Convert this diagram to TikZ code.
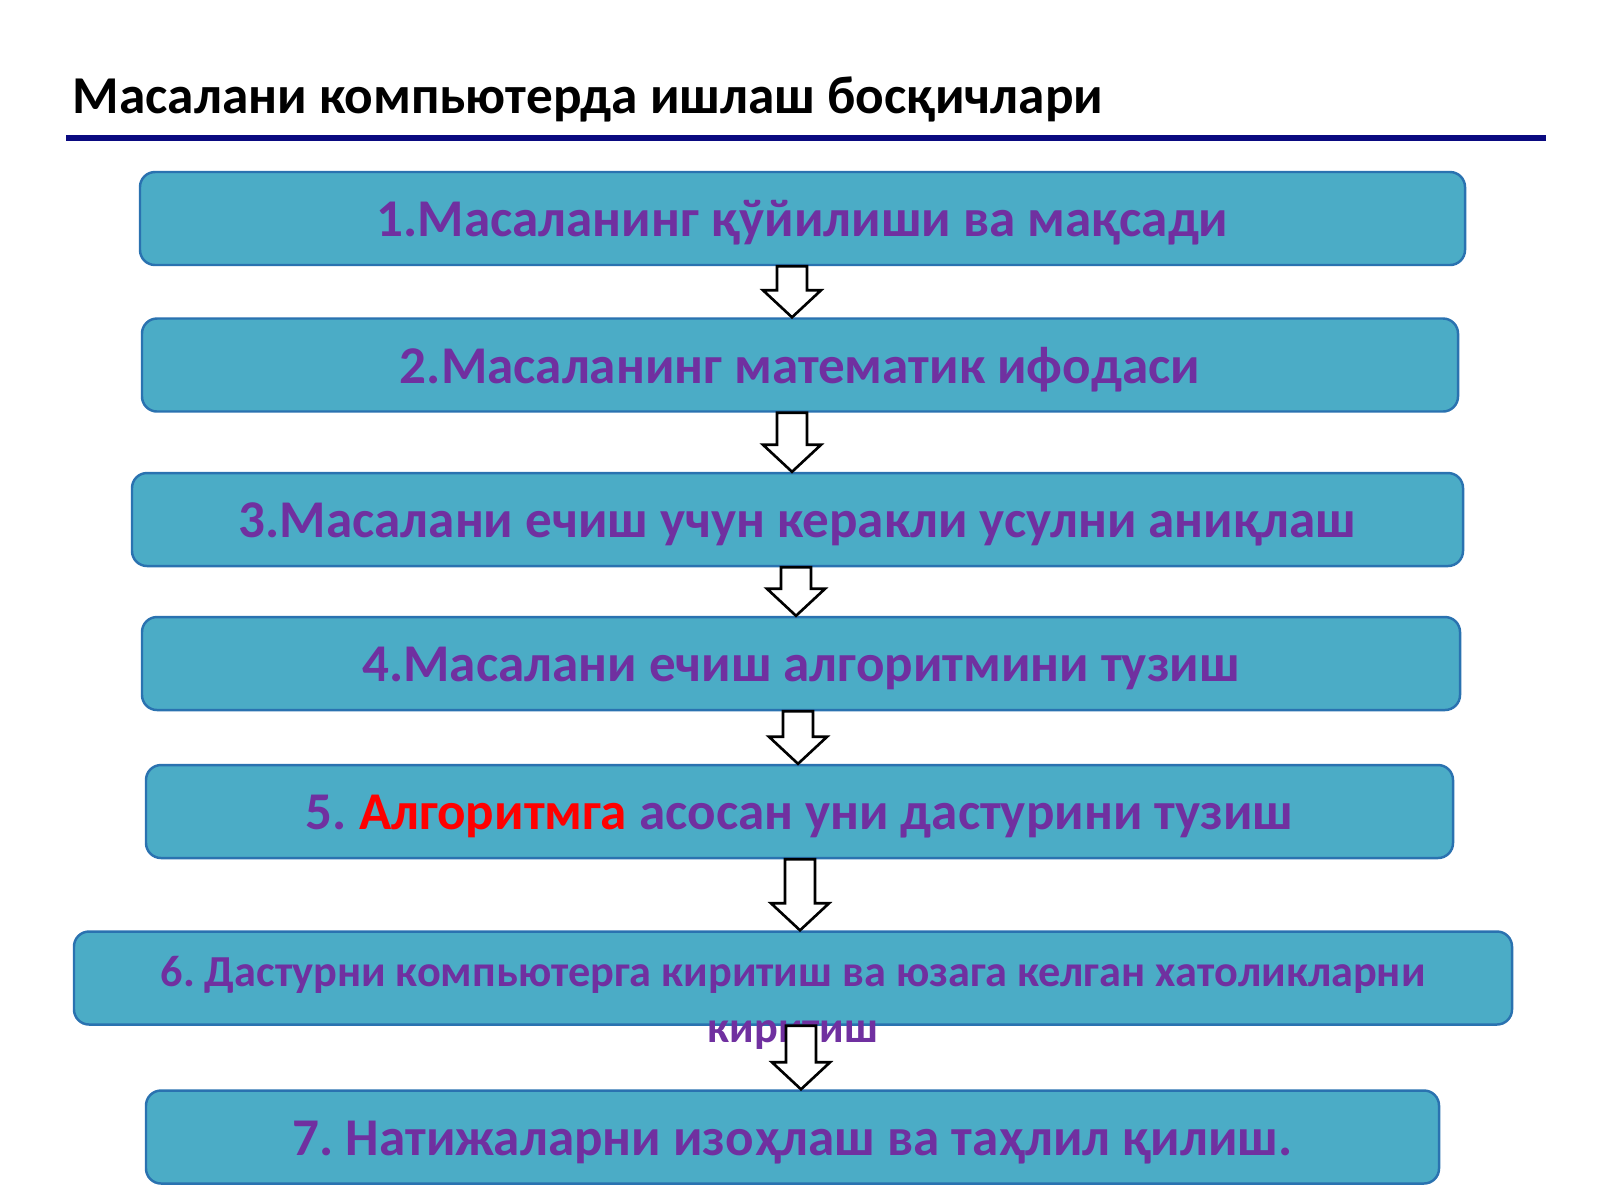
\documentclass[tikz,border=0pt]{standalone}
\usepackage{fontspec}
\setmainfont{Carlito}
\usetikzlibrary{positioning,calc}
\definecolor{boxfill}{HTML}{4BACC6}
\definecolor{boxline}{HTML}{2A72B0}
\definecolor{steppurple}{HTML}{7030A0}
\definecolor{rulenavy}{HTML}{0A0A80}
\tikzset{
  stage/.style={draw=boxline, fill=boxfill, line width=0.7pt, rounded corners=0.15cm,
    minimum height=0.93cm, inner sep=0pt, text height=0.36cm, text depth=0pt,
    text=steppurple, font=\fontsize{15.1}{18}\selectfont\bfseries},
  hollow/.style={draw=black, fill=white, line width=0.75pt, line join=miter},
}
% hollow block arrow at x=#3 from the bottom of #1 to the top of #2
\newcommand{\downstep}[3]{%
  \draw[hollow] let \p1=(#3,0), \p2=(#1.south), \p3=(#2.north) in
    (\x1-0.15cm,\y2) -- (\x1+0.15cm,\y2) -- (\x1+0.15cm,\y3+0.27cm)
    -- (\x1+0.29cm,\y3+0.27cm) -- (\x1,\y3) -- (\x1-0.29cm,\y3+0.27cm)
    -- (\x1-0.15cm,\y3+0.27cm) -- cycle;}
\begin{document}
\frenchspacing
\begin{tikzpicture}
  \useasboundingbox (0,0) rectangle (16,-12);
  \node[anchor=base west, inner sep=0pt, font=\fontsize{15.15}{18}\selectfont\bfseries] (title) at (0.72,-1.13)
    {Масалани компьютерда ишлаш босқичлари};
  \draw[rulenavy, line width=1.45pt] (0.66,-1.38) -- (15.46,-1.38);

  \node[stage, minimum width=13.25cm] (b1) at (8.025,-2.185) {1.Масаланинг қўйилиши ва мақсади};
  \node[stage, minimum width=13.16cm] (b2) at (8.00,-3.65) {2.Масаланинг математик ифодаси};
  \node[stage, minimum width=13.31cm] (b3) at (7.975,-5.195) {3.Масалани ечиш учун керакли усулни аниқлаш};
  \node[stage, minimum width=13.18cm] (b4) at (8.01,-6.635) {4.Масалани ечиш алгоритмини тузиш};
  \node[stage, minimum width=13.07cm] (b5) at (7.995,-8.115)
    {5. \textcolor{red}{Алгоритмга} асосан уни дастурини тузиш};
  \node[stage, minimum width=14.38cm] (b6) at (7.93,-9.78) {};
  \node[align=center, text=steppurple, font=\fontsize{12.6}{16}\selectfont\bfseries] (t6) at (7.93,-10.03)
    {6. Дастурни компьютерга киритиш ва юзага келган хатоликларни\\ киритиш};
  \node[stage, minimum width=12.93cm] (b7) at (7.925,-11.37) {7. Натижаларни изоҳлаш ва таҳлил қилиш.};

  \downstep{b1}{b2}{7.92}
  \downstep{b2}{b3}{7.92}
  \downstep{b3}{b4}{7.96}
  \downstep{b4}{b5}{7.98}
  \downstep{b5}{b6}{8.00}
  \downstep{b6}{b7}{8.01}
\end{tikzpicture}
\end{document}
